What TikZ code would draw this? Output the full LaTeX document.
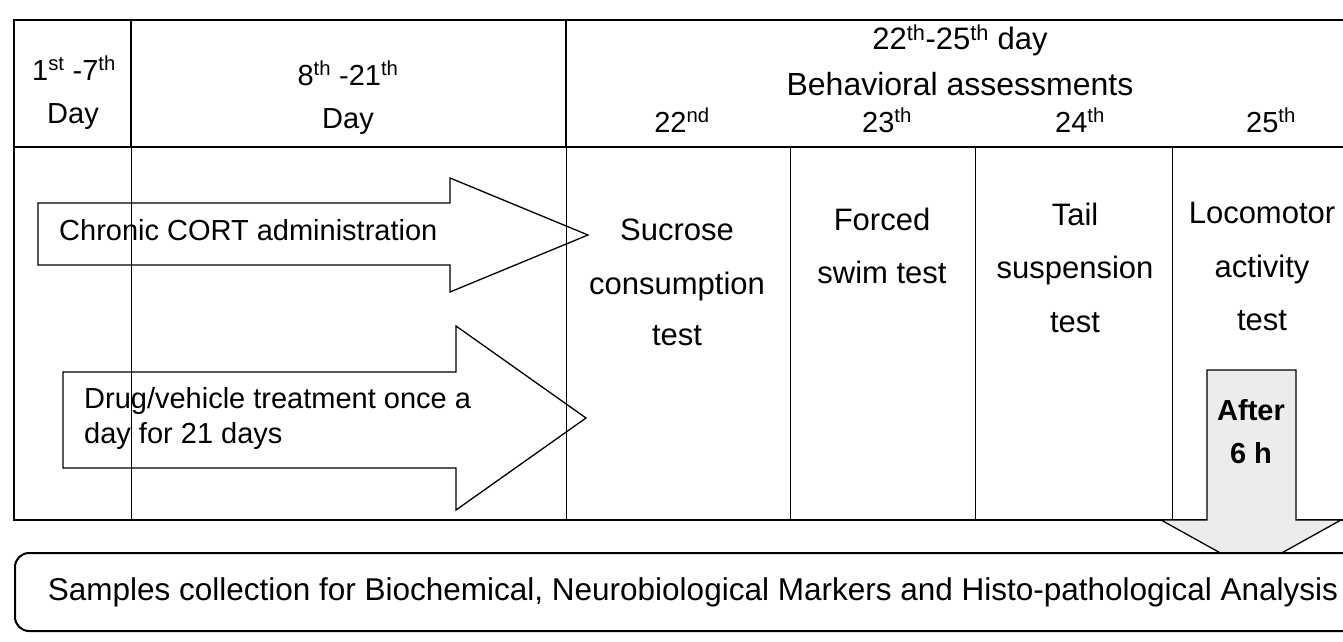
\documentclass[tikz,border=0pt]{standalone}
\usepackage{fontspec}
\setmainfont{Liberation Sans}
\usetikzlibrary{positioning}

\tikzset{
    tabline/.style={line width=2.6pt},
    colline/.style={line width=0.9pt},
    arrline/.style={line width=1.3pt, line join=miter},
    lbl/.style={anchor=base, inner sep=0pt, font=\fontsize{29}{34}\selectfont},
    lblw/.style={lbl, anchor=base west},
    testlbl/.style={lbl, font=\fontsize{31}{36}\selectfont},
}

\begin{document}
\begin{tikzpicture}[x=1pt, y=-1pt]
    \clip (0, 0) rectangle (1343, 642);
    \fill[white] (0, 0) rectangle (1343, 642);
    % table frame
    \draw[tabline]
    (1360, 20) -- (14, 20) -- (14, 520) -- (1360, 520)
    (14, 147) -- (1360, 147)
    (131, 20) -- (131, 147)
    (566, 20) -- (566, 147);
    \draw[colline] (131, 147) -- (131, 520) (566, 147) -- (566, 520);
    \foreach \x in {790, 975, 1172} {
        \draw[colline] (\x, 147) -- (\x, 520);
    }
    % header
    \node[lbl] (firstwk) at (74, 80) {1\textsuperscript{st} -7\textsuperscript{th}};
    \node[lbl] (firstday) at (73, 123) {Day};
    \node[lbl] (secondwk) at (348, 85) {8\textsuperscript{th} -21\textsuperscript{th}};
    \node[lbl] (secondday) at (348, 128) {Day};
    \node[testlbl] (assessdays) at (960, 50) {22\textsuperscript{th}-25\textsuperscript{th} day};
    \node[lbl, font=\fontsize{32}{36}\selectfont] (assess) at (960, 95) {Behavioral assessments};
    \foreach \x/\n/\s in {682/22/nd, 887/23/th, 1080/24/th, 1271/25/th} {
        \node[lbl] (day\n) at (\x, 132) {\n\textsuperscript{\s}};
    }
    % tests
    \node[testlbl] (sucA) at (677, 240) {Sucrose};
    \node[testlbl] (sucB) at (677, 294) {consumption};
    \node[testlbl] (sucC) at (677, 345) {test};
    \node[testlbl] (fstA) at (882, 230) {Forced};
    \node[testlbl] (fstB) at (882, 283) {swim test};
    \node[testlbl] (tstA) at (1075, 225) {Tail};
    \node[testlbl] (tstB) at (1075, 278) {suspension};
    \node[testlbl] (tstC) at (1075, 332) {test};
    \node[testlbl] (locA) at (1262, 223) {Locomotor};
    \node[testlbl] (locB) at (1262, 277) {activity};
    \node[testlbl] (locC) at (1262, 330) {test};
    % treatment arrows
    \draw[arrline]
    (38, 203) -- (450, 203) -- (450, 178) -- (588, 235) -- (450, 292)
    -- (450, 265) -- (38, 265) -- cycle;
    \node[lblw] (cort) at (59, 240) {Chronic CORT administration};
    \draw[arrline]
    (63, 372) -- (456, 372) -- (456, 326) -- (586, 418) -- (456, 510)
    -- (456, 468) -- (63, 468) -- cycle;
    \node[lblw] (drugA) at (84, 408) {Drug/vehicle treatment once a};
    \node[lblw] (drugB) at (84, 443) {day for 21 days};
    % after 6 h
    \draw[arrline, fill=gray!15]
    (1207, 370) -- (1296, 370) -- (1296, 520) -- (1341, 520) -- (1251, 570)
    -- (1161, 520) -- (1207, 520) -- cycle;
    \node[lbl, font=\fontsize{29}{34}\selectfont\bfseries] (afterA) at (1251, 420) {After};
    \node[lbl, font=\fontsize{29}{34}\selectfont\bfseries] (afterB) at (1251, 463) {6 h};
    % samples
    \node[draw, line width=2pt, rounded corners=14pt, fill=white, anchor=north west,
        minimum width=1366pt, minimum height=78pt, inner sep=0pt,
        font=\fontsize{31.5}{36}\selectfont] (samples) at (14, 552)
        {\hspace*{-10pt}Samples collection for Biochemical, Neurobiological Markers and Histo-pathological Analysis};
\end{tikzpicture}
\end{document}
